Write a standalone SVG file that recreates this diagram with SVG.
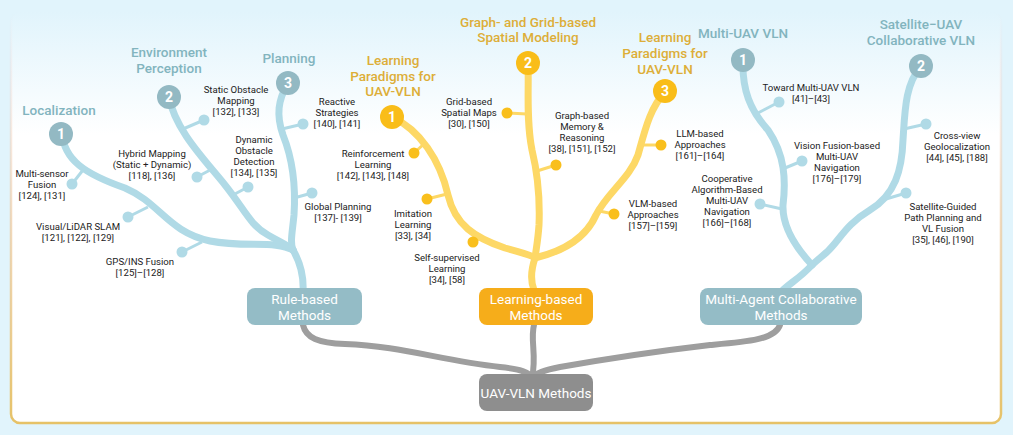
<svg xmlns="http://www.w3.org/2000/svg" width="1013" height="435" viewBox="0 0 1013 435">
<defs>
<linearGradient id="panelFill" x1="0" y1="0" x2="0" y2="1">
<stop offset="0" stop-color="#e1f4fc"/>
<stop offset="0.3" stop-color="#ffffff"/>
<stop offset="1" stop-color="#ffffff"/>
</linearGradient>
<linearGradient id="panelStroke" x1="0" y1="0" x2="0" y2="1">
<stop offset="0" stop-color="#f2d6d6" stop-opacity="0"/>
<stop offset="0.12" stop-color="#f0d4d0" stop-opacity="0.25"/>
<stop offset="0.5" stop-color="#ecc9a0" stop-opacity="0.7"/>
<stop offset="1" stop-color="#e6c267"/>
</linearGradient>
<style>
.title{font-family:Roboto,"Liberation Sans",sans-serif;font-size:13.5px;font-weight:500;text-anchor:middle}
.tb{fill:#82b4be}
.ty{fill:#ddae38}
.leaf{font-family:Roboto,"Liberation Sans",sans-serif;font-size:9.6px;fill:#222;text-anchor:middle}
.num{font-family:Roboto,"Liberation Sans",sans-serif;font-size:14px;font-weight:700;fill:#fff;text-anchor:middle}
.box{font-family:Roboto,"Liberation Sans",sans-serif;font-size:13.5px;fill:#fff;text-anchor:middle}
.bb{fill:none;stroke:#b0dae6;stroke-width:7;stroke-linecap:round}
.bt{fill:none;stroke:#b0dae6;stroke-width:3}
.bd{fill:#b0dae6}
.yb{fill:none;stroke:#fdd866;stroke-width:7;stroke-linecap:round}
.yt{fill:none;stroke:#fdd866;stroke-width:3}
.yd{fill:#f9bf1c}
.gc{fill:none;stroke:#9e9e9e;stroke-width:6;stroke-linecap:round}
</style>
</defs>
<rect width="1013" height="435" fill="#e1f4fc"/>
<rect x="11" y="12" width="990" height="411" rx="9" fill="url(#panelFill)" stroke="url(#panelStroke)" stroke-width="2.5"/>

<g id="connectors">
<path class="gc" d="M303,325 C306,338 318,343 345,344 C400,346 440,360 500,367 C520,369 530,372 532,378"/>
<path class="gc" d="M534,325 C530,340 537,355 532,378"/>
<path class="gc" d="M780,325 C775,340 745,342 710,345 C650,352 600,360 560,367 C545,370 535,373 532,378"/>
<!-- blue left tree -->
<path class="bb" d="M293,250 C300,262 304,275 303,292"/>
<path class="bb" d="M62,133 C64,160 85,174 125,188 C160,203 168,232 210,241 C245,248 275,240 293,250"/>
<path class="bb" d="M169,97 C175,130 205,160 225,185 C245,210 250,225 268,235 C280,242 288,245 293,250"/>
<path class="bb" d="M288,83 C278,100 276,115 283,135 C293,160 296,185 294,215 C292,235 290,242 293,250"/>
<!-- yellow tree -->
<path class="yb" d="M535,258 C531,270 530,280 534,290"/>
<path class="yb" d="M392,117 C420,130 440,160 448,195 C455,225 475,238 505,248 C522,253 532,255 535,258"/>
<path class="yb" d="M528,63 C529,90 526,120 532,150 C538,175 540,200 539,225 C538,240 536,250 535,258"/>
<path class="yb" d="M665,92 C650,108 645,130 638,155 C630,178 608,192 596,215 C585,240 560,252 535,258"/>
<!-- blue right tree -->
<path class="bb" d="M812,265 C800,278 790,283 782,291"/>
<path class="bb" d="M743,60 C742,90 750,110 768,130 C785,155 786,180 783,205 C782,230 800,252 812,265"/>
<path class="bb" d="M921,66 C905,85 905,110 903,140 C902,170 895,195 870,210 C845,225 840,240 827,252 C820,258 815,262 812,265"/>
</g>

<g id="rule-based">
<rect x="247" y="288" width="115" height="37" rx="8" fill="#94bcc6"/>
<text class="box" x="304.5" y="304">Rule-based</text>
<text class="box" x="304.5" y="320">Methods</text>
</g>
<g id="learning-based">
<rect x="479" y="288" width="114" height="37" rx="8" fill="#f6ad1a"/>
<text class="box" x="536" y="304">Learning-based</text>
<text class="box" x="536" y="320">Methods</text>
</g>
<g id="multi-agent">
<rect x="700" y="288" width="162" height="37" rx="8" fill="#94bcc6"/>
<text class="box" x="781" y="304">Multi-Agent Collaborative</text>
<text class="box" x="781" y="320">Methods</text>
</g>
<g id="uav-vln">
<rect x="479" y="374" width="114" height="37" rx="8" fill="#8e8e8e"/>
<text class="box" x="536" y="398">UAV-VLN Methods</text>
</g>

<g id="localization">
<text class="title tb" x="59" y="115">Localization</text>
<circle cx="61" cy="134" r="12" fill="#93b9c3"/>
<text class="num" x="61" y="139">1</text>
<path class="bt" d="M72,184 L83,170"/><circle class="bd" cx="72" cy="184" r="5.5"/>
<text class="leaf" x="42" y="177">Multi-sensor<tspan x="42" dy="11">Fusion</tspan><tspan x="42" dy="11">[124], [131]</tspan></text>
<path class="bt" d="M128,217 L148,207"/><circle class="bd" cx="128" cy="217" r="5.5"/>
<text class="leaf" x="78" y="230">Visual/LiDAR SLAM<tspan x="78" dy="11">[121], [122], [129]</tspan></text>
<path class="bt" d="M182,252 L202,242"/><circle class="bd" cx="182" cy="252" r="5.5"/>
<text class="leaf" x="140" y="265">GPS/INS Fusion<tspan x="140" dy="11">[125]–[128]</tspan></text>
</g>

<g id="environment-perception">
<text class="title tb" x="169" y="57">Environment<tspan x="169" dy="16">Perception</tspan></text>
<circle cx="169" cy="97" r="12" fill="#93b9c3"/>
<text class="num" x="169" y="102">2</text>
<path class="bt" d="M197,177 L212,169"/><circle class="bd" cx="197" cy="177" r="5.5"/>
<text class="leaf" x="152" y="157">Hybrid Mapping<tspan x="152" dy="11">(Static + Dynamic)</tspan><tspan x="152" dy="11">[118], [136]</tspan></text>
<path class="bt" d="M204,120 L183,129"/><circle class="bd" cx="204" cy="120" r="5.5"/>
<text class="leaf" x="236" y="93">Static Obstacle<tspan x="236" dy="11">Mapping</tspan><tspan x="236" dy="11">[132], [133]</tspan></text>
<path class="bt" d="M248,187 L233,195"/><circle class="bd" cx="248" cy="187" r="5.5"/>
<text class="leaf" x="254" y="143">Dynamic<tspan x="254" dy="11">Obstacle</tspan><tspan x="254" dy="11">Detection</tspan><tspan x="254" dy="11">[134], [135]</tspan></text>
</g>

<g id="planning">
<text class="title tb" x="289" y="63">Planning</text>
<circle cx="288" cy="83" r="12" fill="#93b9c3"/>
<text class="num" x="288" y="88">3</text>
<path class="bt" d="M303,124 L282,129"/><circle class="bd" cx="303" cy="124" r="5.5"/>
<text class="leaf" x="337" y="105">Reactive<tspan x="337" dy="11">Strategies</tspan><tspan x="337" dy="11">[140], [141]</tspan></text>
<path class="bt" d="M312,193 L294,198"/><circle class="bd" cx="312" cy="193" r="5.5"/>
<text class="leaf" x="338" y="210">Global Planning<tspan x="338" dy="11">[137]- [139]</tspan></text>
</g>

<g id="learning-paradigms-1">
<text class="title ty" x="393" y="65">Learning<tspan x="393" dy="15.5">Paradigms for</tspan><tspan x="393" dy="15.5">UAV-VLN</tspan></text>
<circle cx="392" cy="117" r="12" fill="#f9bd19"/>
<text class="num" x="392" y="122">1</text>
<path class="yt" d="M414,153 L425,143"/><circle class="yd" cx="414" cy="153" r="5.5"/>
<text class="leaf" x="373" y="157">Reinforcement<tspan x="373" dy="11">Learning</tspan><tspan x="373" dy="11">[142], [143], [148]</tspan></text>
<path class="yt" d="M427,199 L447,194"/><circle class="yd" cx="427" cy="199" r="5.5"/>
<text class="leaf" x="413" y="217">Imitation<tspan x="413" dy="11">Learning</tspan><tspan x="413" dy="11">[33], [34]</tspan></text>
<path class="yt" d="M473,242 L483,237"/><circle class="yd" cx="473" cy="242" r="5.5"/>
<text class="leaf" x="447" y="261">Self-supervised<tspan x="447" dy="11">Learning</tspan><tspan x="447" dy="11">[34], [58]</tspan></text>
</g>

<g id="spatial-modeling">
<text class="title ty" x="528" y="27">Graph- and Grid-based<tspan x="528" dy="15">Spatial Modeling</tspan></text>
<circle cx="528" cy="63" r="12" fill="#f9bd19"/>
<text class="num" x="528" y="68">2</text>
<path class="yt" d="M507,113 L527,114"/><circle class="yd" cx="507" cy="113" r="5.5"/>
<text class="leaf" x="469" y="105">Grid-based<tspan x="469" dy="11">Spatial Maps</tspan><tspan x="469" dy="11">[30], [150]</tspan></text>
<path class="yt" d="M556,165 L537,171"/><circle class="yd" cx="556" cy="165" r="5.5"/>
<text class="leaf" x="582" y="119">Graph-based<tspan x="582" dy="11">Memory &amp;</tspan><tspan x="582" dy="11">Reasoning</tspan><tspan x="582" dy="11">[38], [151], [152]</tspan></text>
</g>

<g id="learning-paradigms-3">
<text class="title ty" x="665" y="42">Learning<tspan x="665" dy="16">Paradigms for</tspan><tspan x="665" dy="16">UAV-VLN</tspan></text>
<circle cx="665" cy="91" r="12" fill="#f9bd19"/>
<text class="num" x="665" y="96">3</text>
<path class="yt" d="M661,145 L641,145"/><circle class="yd" cx="661" cy="145" r="5.5"/>
<text class="leaf" x="700" y="137">LLM-based<tspan x="700" dy="11">Approaches</tspan><tspan x="700" dy="11">[161]–[164]</tspan></text>
<path class="yt" d="M614,214 L599,211"/><circle class="yd" cx="614" cy="214" r="5.5"/>
<text class="leaf" x="653" y="207">VLM-based<tspan x="653" dy="11">Approaches</tspan><tspan x="653" dy="11">[157]–[159]</tspan></text>
</g>

<g id="multi-uav-vln">
<text class="title tb" x="743" y="38">Multi-UAV VLN</text>
<circle cx="743" cy="60" r="12" fill="#93b9c3"/>
<text class="num" x="743" y="65">1</text>
<path class="bt" d="M779,102 L756,114"/><circle class="bd" cx="779" cy="102" r="5.5"/>
<text class="leaf" x="811" y="91">Toward Multi-UAV VLN<tspan x="811" dy="11">[41]–[43]</tspan></text>
<path class="bt" d="M802,161 L785,168"/><circle class="bd" cx="802" cy="161" r="5.5"/>
<text class="leaf" x="837" y="149">Vision Fusion-based<tspan x="837" dy="11">Multi-UAV</tspan><tspan x="837" dy="11">Navigation</tspan><tspan x="837" dy="11">[176]–[179]</tspan></text>
<path class="bt" d="M760,204 L782,209"/><circle class="bd" cx="760" cy="204" r="5.5"/>
<text class="leaf" x="727" y="182">Cooperative<tspan x="727" dy="11">Algorithm-Based</tspan><tspan x="727" dy="11">Multi-UAV</tspan><tspan x="727" dy="11">Navigation</tspan><tspan x="727" dy="11">[166]–[168]</tspan></text>
</g>

<g id="satellite-uav">
<text class="title tb" x="921" y="29">Satellite−UAV<tspan x="921" dy="16">Collaborative VLN</tspan></text>
<circle cx="921" cy="66" r="12" fill="#93b9c3"/>
<text class="num" x="921" y="71">2</text>
<path class="bt" d="M926,124 L904,129"/><circle class="bd" cx="926" cy="124" r="5.5"/>
<text class="leaf" x="957" y="139">Cross-view<tspan x="957" dy="11">Geolocalization</tspan><tspan x="957" dy="11">[44], [45], [188]</tspan></text>
<path class="bt" d="M906,193 L886,199"/><circle class="bd" cx="906" cy="193" r="5.5"/>
<text class="leaf" x="943" y="210">Satellite-Guided<tspan x="943" dy="11">Path Planning and</tspan><tspan x="943" dy="11">VL Fusion</tspan><tspan x="943" dy="11">[35], [46], [190]</tspan></text>
</g>
</svg>
